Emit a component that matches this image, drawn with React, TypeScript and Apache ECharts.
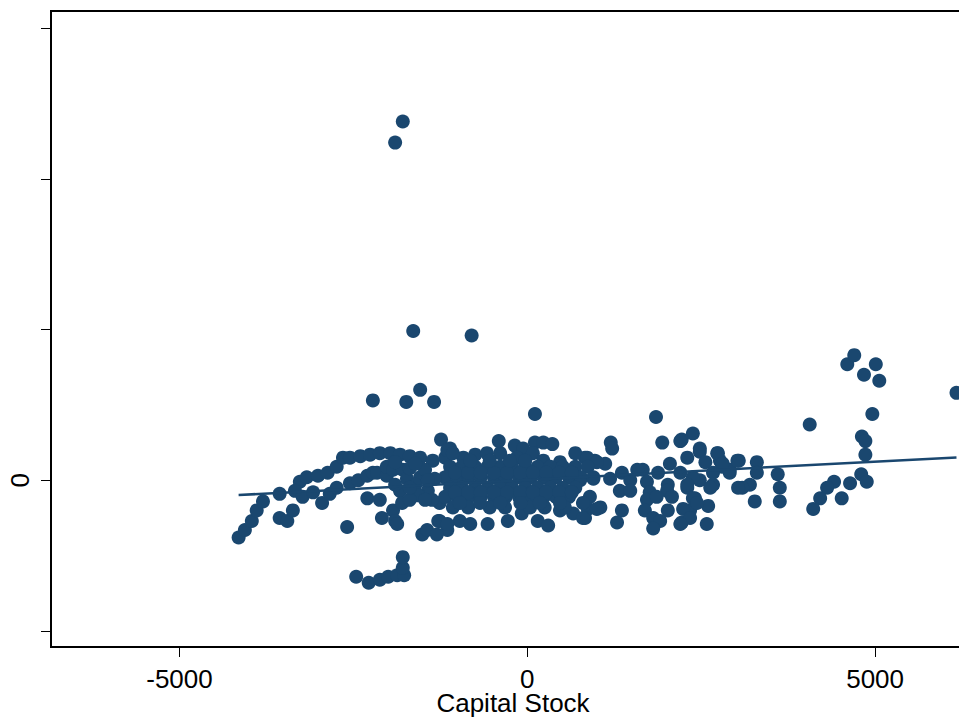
import React, { useEffect, useRef } from "react";
import * as echarts from "echarts";

// x: Capital Stock, y: fitted residual-style outcome (only 0 labelled on the original)
const xTickValues = [-5000, 0, 5000];
const yTickValues = [-1, 0, 1, 2, 3];
const yLabelValues = [0];

const outliers: [number, number][] = [
  [-1790, 2.38], [-1900, 2.24], [-1640, 0.99], [-800, 0.96],
  [-2220, 0.53], [-1740, 0.52], [-1540, 0.6], [-1340, 0.52],
  [110, 0.44], [-1240, 0.27], [-410, 0.26], [1850, 0.42],
  [4060, 0.37], [6170, 0.58],
];

const rightGroup: [number, number][] = [
  [4600, 0.77], [4700, 0.83], [4840, 0.7], [5010, 0.77], [5060, 0.66],
  [4960, 0.44], [4810, 0.29], [4860, 0.26], [4860, 0.17], [4800, 0.04],
  [4880, -0.01], [4640, -0.02], [4520, -0.12], [4410, -0.01], [4310, -0.05],
  [4210, -0.12], [4110, -0.19],
];

const midRight: [number, number][] = [
  [3600, 0.04], [3630, -0.05], [3630, -0.14], [3270, -0.14], [3300, 0.12],
  [3300, 0.05], [3200, -0.03], [3090, -0.05], [3040, 0.13], [2740, 0.18],
  [2480, 0.21], [2380, 0.31], [2220, 0.27], [2300, 0.15], [2600, -0.17],
  [2580, -0.29], [2340, -0.2], [2220, -0.28], [2410, -0.12], [2770, 0.13],
  [2910, 0.05], [2670, -0.03], [2480, 0.0], [2300, -0.05], [2800, 0.09],
  [2910, 0.07], [3020, 0.13], [3030, -0.05],
];

const centreRight: [number, number][] = [
  [1200, 0.25], [1220, 0.21], [1940, 0.25], [2200, 0.26], [2480, 0.19],
  [2730, 0.18], [2050, 0.11], [2560, 0.12], [2810, 0.11], [1660, 0.07],
  [1580, 0.07], [1360, 0.05], [1880, 0.05], [2200, 0.05], [2380, 0.02],
  [2670, 0.05], [1120, 0.11], [970, 0.13], [830, 0.15], [760, 0.0],
  [950, 0.01], [1190, 0.01], [1480, 0.0], [1720, -0.01], [2020, -0.03],
  [2300, -0.03], [2630, -0.05], [1760, -0.08], [2010, -0.07], [1330, -0.07],
  [1480, -0.07], [900, -0.11], [1720, -0.13], [1860, -0.11], [2080, -0.11],
  [2380, -0.12], [2440, -0.15], [870, -0.19], [1050, -0.18], [1360, -0.2],
  [1690, -0.2], [2020, -0.2], [2240, -0.19], [2340, -0.25], [830, -0.25],
  [1290, -0.28], [1810, -0.25], [1910, -0.27], [2200, -0.29], [1810, -0.32],
];

const centreEdges: [number, number][] = [
  [-180, 0.23], [-60, 0.21], [110, 0.25], [230, 0.25], [360, 0.24],
  [-1110, 0.21], [-1180, 0.15], [-920, 0.15], [-750, 0.17], [-580, 0.18],
  [-390, 0.18], [-150, 0.15], [80, 0.18], [230, 0.13], [470, 0.12],
  [690, 0.18], [860, 0.15], [1000, 0.12],
  [-1260, -0.27], [-1150, -0.33], [-970, -0.27], [-820, -0.29], [-570, -0.29],
  [-280, -0.27], [150, -0.27], [300, -0.3], [-80, -0.22], [470, -0.2],
  [660, -0.22], [800, -0.25], [1000, -0.19], [800, -0.15], [-1260, -0.15],
];

const centreCore: [number, number][] = [
  [-1110, 0.09], [-940, 0.09], [-750, 0.09], [-570, 0.09], [-390, 0.09], [-220, 0.09],
  [-30, 0.09], [150, 0.09], [330, 0.09], [510, 0.09], [690, 0.09], [870, 0.09],
  [-1180, 0.02], [-1010, 0.02], [-840, 0.02], [-670, 0.02], [-480, 0.02], [-310, 0.02],
  [-120, 0.02], [50, 0.02], [240, 0.02], [410, 0.02], [600, 0.02], [770, 0.02], [950, 0.02],
  [-1110, -0.05], [-940, -0.05], [-750, -0.05], [-570, -0.05], [-390, -0.05], [-220, -0.05],
  [-30, -0.05], [150, -0.05], [330, -0.05], [510, -0.05], [690, -0.05],
  [-1180, -0.11], [-1010, -0.11], [-840, -0.11], [-670, -0.11], [-480, -0.11], [-310, -0.11],
  [-120, -0.11], [50, -0.11], [240, -0.11], [410, -0.11], [600, -0.11],
  [-1070, -0.18], [-850, -0.18], [-540, -0.18], [-320, -0.18], [40, -0.18], [250, -0.18], [540, -0.18],
  [-1040, 0.05], [-850, 0.05], [-670, 0.05], [-480, 0.05], [-290, 0.05], [-100, 0.05],
  [80, 0.05], [270, 0.05], [460, 0.05], [640, 0.05],
  [-1040, -0.08], [-850, -0.08], [-670, -0.08], [-480, -0.08], [-290, -0.08], [-100, -0.08],
  [80, -0.08], [270, -0.08], [460, -0.08], [640, -0.08],
  [-970, -0.15], [-680, -0.15], [-390, -0.15], [-100, -0.15], [180, -0.15], [470, -0.15],
  [-820, 0.13], [-540, 0.13], [-250, 0.13], [-30, 0.13],
];

const upperArc: [number, number][] = [
  [-3270, -0.01], [-3170, 0.02], [-3010, 0.03], [-2870, 0.05], [-2740, 0.09],
  [-2650, 0.15], [-2550, 0.15], [-2400, 0.16], [-2260, 0.17], [-2120, 0.18],
  [-1970, 0.18], [-1830, 0.17], [-1690, 0.16], [-1540, 0.15], [-1360, 0.13],
  [-1150, 0.2], [-1070, 0.18],
];

const lowerBand: [number, number][] = [
  [-4150, -0.38], [-4060, -0.33], [-3960, -0.27], [-3890, -0.2], [-3800, -0.14],
  [-3560, -0.09], [-3560, -0.25], [-3450, -0.27], [-3370, -0.2], [-3340, -0.07],
  [-3230, -0.11], [-3080, -0.08], [-2950, -0.15], [-2840, -0.09], [-2740, -0.05],
  [-2590, -0.31], [-2550, -0.02], [-2430, 0.0], [-2300, 0.03], [-2300, -0.12],
  [-2220, 0.05], [-2160, 0.05], [-2120, -0.13], [-2090, -0.25], [-2020, 0.03],
  [-2020, 0.09], [-1930, 0.07], [-1930, -0.2], [-1900, -0.27], [-1870, -0.29],
  [-1830, -0.07], [-1800, -0.15], [-1790, 0.07], [-1730, 0.01], [-1540, 0.02],
  [-1510, -0.36], [-1440, -0.33], [-1300, -0.36], [-1280, -0.27], [-1150, -0.29],
  [-1690, 0.08], [-1610, -0.03], [-1470, 0.07], [-1430, -0.07], [-1330, 0.01],
  [-1370, -0.13], [-1570, -0.1], [-1690, -0.13],
  [-1900, 0.12], [-1610, 0.11], [-1430, 0.0], [-1900, -0.03], [-1690, -0.05], [-1470, -0.13],
];

const bottomGroup: [number, number][] = [
  [-2460, -0.64], [-2280, -0.68], [-2120, -0.66], [-2000, -0.64],
  [-1870, -0.63], [-1770, -0.63], [-1790, -0.58], [-1790, -0.51],
];

// fitted regression line: y = a + b * x
const fitIntercept = 0.0025;
const fitSlope = 0.0000242;

const NAVY = "#1a476f";
const FONT = "'Liberation Sans', Arial, sans-serif";

export default function App() {
  const ref = useRef<HTMLDivElement>(null);

  useEffect(() => {
    if (!ref.current) return;
    const chart = echarts.init(ref.current, undefined, { renderer: "svg" });
    const points = [
      ...outliers, ...rightGroup, ...midRight, ...centreRight, ...centreEdges,
      ...centreCore, ...upperArc, ...lowerBand, ...bottomGroup,
    ];
    const xs = points.map((p) => p[0]);
    const xMin = Math.min(...xs);
    const xMax = Math.max(...xs);
    const fitLine = [
      [xMin, fitIntercept + fitSlope * xMin],
      [xMax, fitIntercept + fitSlope * xMax],
    ];

    chart.setOption({
      animation: false,
      backgroundColor: "#ffffff",
      grid: {
        left: 51,
        top: 11,
        right: 0,
        bottom: 71,
        outerBoundsMode: "none",
        containLabel: false,
        show: true,
        borderColor: "#000",
        borderWidth: 2,
      },
      xAxis: {
        type: "value",
        min: -6847,
        max: 6436,
        name: "Capital Stock",
        nameLocation: "middle",
        nameGap: 44,
        nameMoveOverlap: false,
        nameTextStyle: { fontFamily: FONT, fontSize: 26, lineHeight: 24, color: "#000" },
        splitLine: { show: false },
        axisLine: { show: true, onZero: false, lineStyle: { color: "#000", width: 2 } },
        axisTick: {
          show: true,
          length: 10,
          customValues: xTickValues,
          lineStyle: { color: "#000", width: 1 },
        },
        axisLabel: {
          customValues: xTickValues,
          formatter: (v: number) => String(v),
          margin: 20,
          fontFamily: FONT,
          fontSize: 26,
          lineHeight: 24,
          color: "#000",
        },
      },
      yAxis: {
        type: "value",
        min: -1.106,
        max: 3.113,
        splitLine: { show: false },
        axisLine: { show: true, onZero: false, lineStyle: { color: "#000", width: 2 } },
        axisTick: {
          show: true,
          length: 10,
          customValues: yTickValues,
          lineStyle: { color: "#000", width: 1 },
        },
        axisLabel: {
          customValues: yLabelValues,
          formatter: (v: number) => String(v),
          rotate: 90,
          margin: 18,
          fontFamily: FONT,
          fontSize: 26,
          color: "#000",
        },
      },
      series: [
        {
          type: "scatter",
          data: points,
          symbol: "circle",
          symbolSize: 14,
          itemStyle: { color: NAVY, opacity: 1 },
          silent: true,
        },
        {
          type: "line",
          data: fitLine,
          symbol: "none",
          lineStyle: { color: NAVY, width: 2.5 },
          silent: true,
          z: 3,
        },
      ],
    });
    return () => chart.dispose();
  }, []);

  return (
    <div style={{ position: "absolute", left: 0, top: 0, width: "959px", height: "718px", overflow: "hidden" }}>
      <div ref={ref} style={{ width: "975px", height: "718px" }} />
    </div>
  );
}
